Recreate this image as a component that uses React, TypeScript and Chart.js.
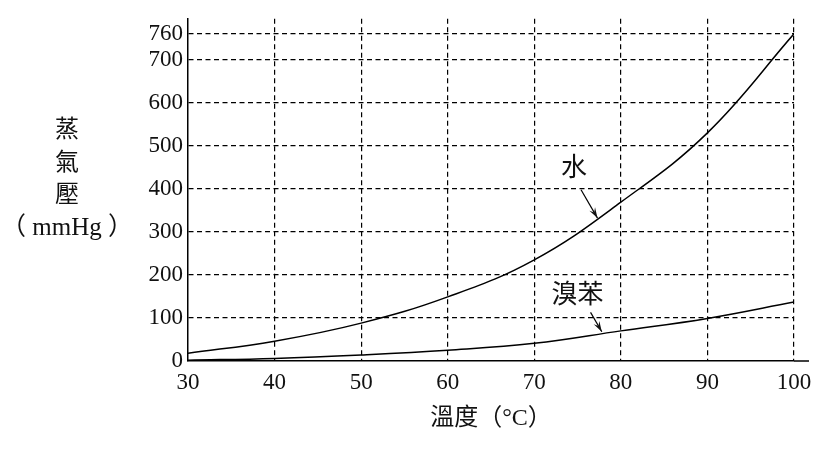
import { useEffect, useRef } from "react";
import { Chart, registerables } from "chart.js";

Chart.register(...registerables);

const temperatures = [30, 40, 50, 60, 70, 80, 90, 100];
const waterPressure = [18, 46, 88, 149, 235, 369, 530, 760];
const bromobenzenePressure = [2, 6, 14, 25, 41, 70, 99, 137];

const xTicks = [30, 40, 50, 60, 70, 80, 90, 100];
const yTicks = [0, 100, 200, 300, 400, 500, 600, 700, 760];

const yTitleLines = ["蒸", "氣", "壓", "（ mmHg ）"];
const xTitle = "溫度（°C）";

// curve labels: [text, labelX, labelY, arrowFromX, arrowFromY, arrowToX, arrowToY] in data units
const curveLabels: [string, number, number, number, number, number, number][] = [
  ["水", 74.6, 445, 75.4, 398, 77.3, 332],
  ["溴苯", 75.0, 150, 76.5, 113, 77.8, 68],
];

const FONT = '"Liberation Serif", "Noto Sans CJK TC", serif';

export default function App() {
  const canvasRef = useRef<HTMLCanvasElement | null>(null);

  useEffect(() => {
    if (!canvasRef.current) {
      return;
    }
    const ctx = canvasRef.current.getContext("2d");
    if (!ctx) {
      return;
    }

    const annotations = {
      id: "annotations",
      afterDraw(chart: any) {
        const c = chart.ctx;
        const xs = chart.scales.x;
        const ys = chart.scales.y;
        const area = chart.chartArea;
        c.save();
        c.setLineDash([]);

        // x axis runs a bit past 100
        c.strokeStyle = "#000";
        c.lineWidth = 1.5;
        c.beginPath();
        c.moveTo(area.right, ys.getPixelForValue(0));
        c.lineTo(area.right + 15, ys.getPixelForValue(0));
        c.stroke();

        // y axis title, stacked
        c.fillStyle = "#111";
        c.textAlign = "center";
        c.textBaseline = "middle";
        yTitleLines.forEach((t, i) => {
          c.font = (i === 3 ? "25px " : "24px ") + FONT;
          c.fillText(t, 67, 131 + i * 32.5);
        });

        // curve labels + arrows
        curveLabels.forEach(([text, lx, ly, fx, fy, tx, ty]) => {
          c.fillStyle = "#111";
          c.font = "26px " + FONT;
          c.fillText(text, xs.getPixelForValue(lx), ys.getPixelForValue(ly));
          const x1 = xs.getPixelForValue(fx);
          const y1 = ys.getPixelForValue(fy);
          const x2 = xs.getPixelForValue(tx);
          const y2 = ys.getPixelForValue(ty);
          c.lineWidth = 1.2;
          c.beginPath();
          c.moveTo(x1, y1);
          c.lineTo(x2, y2);
          c.stroke();
          const ang = Math.atan2(y2 - y1, x2 - x1);
          const len = 11;
          c.beginPath();
          c.moveTo(x2, y2);
          c.lineTo(x2 - len * Math.cos(ang - 0.3), y2 - len * Math.sin(ang - 0.3));
          c.lineTo(x2 - len * 0.6 * Math.cos(ang), y2 - len * 0.6 * Math.sin(ang));
          c.lineTo(x2 - len * Math.cos(ang + 0.3), y2 - len * Math.sin(ang + 0.3));
          c.closePath();
          c.fill();
        });
        c.restore();
      },
    };

    const chart = new Chart(ctx, {
      type: "line",
      data: {
        datasets: [
          {
            label: "水",
            data: temperatures.map((t, i) => ({ x: t, y: waterPressure[i] })),
            borderColor: "#000",
            borderWidth: 1.5,
            pointRadius: 0,
            tension: 0.4,
            fill: false,
          },
          {
            label: "溴苯",
            data: temperatures.map((t, i) => ({ x: t, y: bromobenzenePressure[i] })),
            borderColor: "#000",
            borderWidth: 1.5,
            pointRadius: 0,
            tension: 0.4,
            fill: false,
          },
        ],
      },
      options: {
        animation: false,
        responsive: true,
        maintainAspectRatio: false,
        layout: { padding: { top: 18, right: 38, left: 0, bottom: 0 } },
        plugins: {
          legend: { display: false },
          tooltip: { enabled: false },
        },
        scales: {
          x: {
            type: "linear",
            min: 30,
            max: 100,
            afterBuildTicks: (axis: any) => {
              axis.ticks = xTicks.map((v) => ({ value: v }));
            },
            afterFit: (scale: any) => {
              scale.height = 92;
            },
            border: { display: true, color: "#000", width: 1.5, dash: [5, 3.5] },
            grid: {
              drawTicks: false,
              color: (c: any) => (c.tick && c.tick.value === 30 ? "rgba(0,0,0,0)" : "#000"),
              lineWidth: 1.2,
            },
            ticks: {
              padding: 8,
              color: "#111",
              font: { family: FONT, size: 23 },
            },
            title: {
              display: true,
              text: xTitle,
              color: "#111",
              font: { family: FONT, size: 24 },
              padding: { top: 0, bottom: 20 },
            },
          },
          y: {
            type: "linear",
            min: 0,
            max: 795,
            afterBuildTicks: (axis: any) => {
              axis.ticks = yTicks.map((v) => ({ value: v }));
            },
            afterFit: (scale: any) => {
              scale.width = 188;
            },
            border: { display: true, color: "#000", width: 1.5, dash: [5, 3.5] },
            grid: {
              drawTicks: false,
              color: (c: any) => (c.tick && c.tick.value === 0 ? "rgba(0,0,0,0)" : "#000"),
              lineWidth: 1.2,
            },
            ticks: {
              padding: 5,
              color: "#111",
              font: { family: FONT, size: 23 },
            },
          },
        },
      },
      plugins: [annotations],
    });

    return () => {
      chart.destroy();
    };
  }, []);

  return (
    <div style={{ position: "fixed", left: 0, top: 0, width: "832px", height: "453px", background: "#fff" }}>
      <canvas ref={canvasRef}></canvas>
    </div>
  );
}
